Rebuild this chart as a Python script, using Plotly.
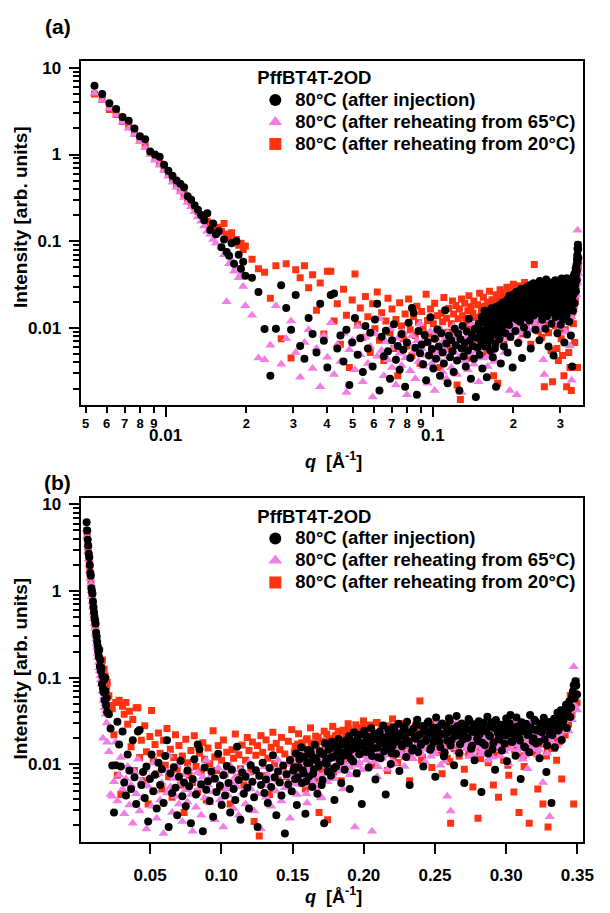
import math
import plotly.graph_objects as go

# ---------------- data ----------------
# q grid [1/Å]; the last block is a second, interleaved set of high-q points
q = [
 0.00540, 0.00577, 0.00614, 0.00651, 0.00688, 0.00725, 0.00762, 0.00799, 0.00836, 0.00873,
 0.00910, 0.00947, 0.00984, 0.01021, 0.01058, 0.01095, 0.01132, 0.01169, 0.01206, 0.01243,
 0.01280, 0.01317, 0.01354, 0.01391, 0.01428, 0.01465, 0.01502, 0.01539, 0.01576, 0.01613,
 0.01650, 0.01687, 0.01724, 0.01761, 0.01798, 0.01835, 0.01872, 0.01909, 0.01946, 0.01983,
 0.0210, 0.0222, 0.0234, 0.0246, 0.0258, 0.0270, 0.0282, 0.0294, 0.0306, 0.0318,
 0.0330, 0.0342, 0.0354, 0.0366, 0.0378, 0.0390, 0.0402, 0.0414, 0.0426, 0.0438,
 0.0450, 0.0462, 0.0474, 0.0486, 0.0498, 0.0510, 0.0522, 0.0534, 0.0546, 0.0558,
 0.0570, 0.0582, 0.0594, 0.0606, 0.0618, 0.0630, 0.0642, 0.0654, 0.0666, 0.0678,
 0.0690, 0.0702, 0.0714, 0.0726, 0.0738, 0.0750, 0.0762, 0.0774, 0.0786, 0.0798,
 0.0810, 0.0822, 0.0834, 0.0846, 0.0858, 0.0870, 0.0882, 0.0894, 0.0906, 0.0918,
 0.0930, 0.0942, 0.0954, 0.0966, 0.0978, 0.0990, 0.1002, 0.1014, 0.1026, 0.1038,
 0.1050, 0.1062, 0.1074, 0.1086, 0.1098, 0.1110, 0.1122, 0.1134, 0.1146, 0.1158,
 0.1170, 0.1182, 0.1194, 0.1206, 0.1218, 0.1230, 0.1242, 0.1254, 0.1266, 0.1278,
 0.1290, 0.1302, 0.1314, 0.1326, 0.1338, 0.1350, 0.1362, 0.1374, 0.1386, 0.1398,
 0.1410, 0.1422, 0.1434, 0.1446, 0.1458, 0.1470, 0.1482, 0.1494, 0.1506, 0.1518,
 0.1530, 0.1542, 0.1554, 0.1566, 0.1578, 0.1590, 0.1602, 0.1614, 0.1626, 0.1638,
 0.1650, 0.1662, 0.1674, 0.1686, 0.1698, 0.1710, 0.1722, 0.1734, 0.1746, 0.1758,
 0.1770, 0.1782, 0.1794, 0.1806, 0.1818, 0.1830, 0.1842, 0.1854, 0.1866, 0.1878,
 0.1890, 0.1902, 0.1914, 0.1926, 0.1938, 0.1950, 0.1962, 0.1974, 0.1986, 0.1998,
 0.2010, 0.2022, 0.2034, 0.2046, 0.2058, 0.2070, 0.2082, 0.2094, 0.2106, 0.2118,
 0.2130, 0.2142, 0.2154, 0.2166, 0.2178, 0.2190, 0.2202, 0.2214, 0.2226, 0.2238,
 0.2250, 0.2262, 0.2274, 0.2286, 0.2298, 0.2310, 0.2322, 0.2334, 0.2346, 0.2358,
 0.2370, 0.2382, 0.2394, 0.2406, 0.2418, 0.2430, 0.2442, 0.2454, 0.2466, 0.2478,
 0.2490, 0.2502, 0.2514, 0.2526, 0.2538, 0.2550, 0.2562, 0.2574, 0.2586, 0.2598,
 0.2610, 0.2622, 0.2634, 0.2646, 0.2658, 0.2670, 0.2682, 0.2694, 0.2706, 0.2718,
 0.2730, 0.2742, 0.2754, 0.2766, 0.2778, 0.2790, 0.2802, 0.2814, 0.2826, 0.2838,
 0.2850, 0.2862, 0.2874, 0.2886, 0.2898, 0.2910, 0.2922, 0.2934, 0.2946, 0.2958,
 0.2970, 0.2982, 0.2994, 0.3006, 0.3018, 0.3030, 0.3042, 0.3054, 0.3066, 0.3078,
 0.3090, 0.3102, 0.3114, 0.3126, 0.3138, 0.3150, 0.3162, 0.3174, 0.3186, 0.3198,
 0.3210, 0.3222, 0.3234, 0.3246, 0.3258, 0.3270, 0.3282, 0.3294, 0.3306, 0.3318,
 0.3330, 0.3342, 0.3354, 0.3366, 0.3378, 0.3390, 0.3402, 0.3414, 0.3426, 0.3438,
 0.3450, 0.3462, 0.3474, 0.3486, 0.3498,
 # interleaved high-q points
 0.1512, 0.1524, 0.1536, 0.1548, 0.1560, 0.1572, 0.1584, 0.1596, 0.1608, 0.1620,
 0.1632, 0.1644, 0.1656, 0.1668, 0.1680, 0.1692, 0.1704, 0.1716, 0.1728, 0.1740,
 0.1752, 0.1764, 0.1776, 0.1788, 0.1800, 0.1812, 0.1824, 0.1836, 0.1848, 0.1860,
 0.1872, 0.1884, 0.1896, 0.1908, 0.1920, 0.1932, 0.1944, 0.1956, 0.1968, 0.1980,
 0.1992, 0.2004, 0.2016, 0.2028, 0.2040, 0.2052, 0.2064, 0.2076, 0.2088, 0.2100,
 0.2112, 0.2124, 0.2136, 0.2148, 0.2160, 0.2172, 0.2184, 0.2196, 0.2208, 0.2220,
 0.2232, 0.2244, 0.2256, 0.2268, 0.2280, 0.2292, 0.2304, 0.2316, 0.2328, 0.2340,
 0.2352, 0.2364, 0.2376, 0.2388, 0.2400, 0.2412, 0.2424, 0.2436, 0.2448, 0.2460,
 0.2472, 0.2484, 0.2496, 0.2508, 0.2520, 0.2532, 0.2544, 0.2556, 0.2568, 0.2580,
 0.2592, 0.2604, 0.2616, 0.2628, 0.2640, 0.2652, 0.2664, 0.2676, 0.2688, 0.2700,
 0.2712, 0.2724, 0.2736, 0.2748, 0.2760, 0.2772, 0.2784, 0.2796, 0.2808, 0.2820,
 0.2832, 0.2844, 0.2856, 0.2868, 0.2880, 0.2892, 0.2904, 0.2916, 0.2928, 0.2940,
 0.2952, 0.2964, 0.2976, 0.2988, 0.3000, 0.3012, 0.3024, 0.3036, 0.3048, 0.3060,
 0.3072, 0.3084, 0.3096, 0.3108, 0.3120, 0.3132, 0.3144, 0.3156, 0.3168, 0.3180,
 0.3192, 0.3204, 0.3216, 0.3228, 0.3240, 0.3252, 0.3264, 0.3276, 0.3288, 0.3300,
 0.3312, 0.3324, 0.3336, 0.3348, 0.3360, 0.3372, 0.3384, 0.3396, 0.3408, 0.3420,
 0.3432, 0.3444, 0.3456, 0.3468, 0.3480, 0.3492,
]

I_injection = [
 6.2, 5.0, 3.9, 3.35, 2.7, 2.45, 2.0, 1.62, 1.5, 1.08,
 1.0, 0.94, 0.76, 0.65, 0.57, 0.50, 0.46, 0.42, 0.33, 0.30,
 0.26, 0.23, 0.20, 0.175, 0.21, 0.135, 0.16, 0.12, 0.13, 0.085,
 0.105, 0.075, 0.068, 0.095, 0.055, 0.1, 0.07, 0.048, 0.058, 0.04,
 0.038, 0.026, 0.0097, 0.0028, 0.0098, 0.031, 0.017, 0.0095, 0.024, 0.0062,
 0.0044, 0.013, 0.0085, 0.0052, 0.019, 0.0071, 0.0035, 0.024, 0.025, 0.0058,
 0.0082, 0.0041, 0.0095, 0.0022, 0.0068, 0.013, 0.0049, 0.0076, 0.0031, 0.0105,
 0.0058, 0.0088, 0.0036, 0.0125, 0.019, 0.0019, 0.0079, 0.0047, 0.0093, 0.0054,
 0.0026, 0.0072, 0.011, 0.0043, 0.0062, 0.0033, 0.0085, 0.0056, 0.0021, 0.0068,
 0.0115, 0.0045, 0.017, 0.015, 0.0059, 0.0017, 0.0092, 0.0051, 0.0064, 0.0038,
 0.0083, 0.0025, 0.0069, 0.0048, 0.0133, 0.0057, 0.0034, 0.0075, 0.0044, 0.0096,
 0.0061, 0.0028, 0.0087, 0.0052, 0.0039, 0.016, 0.0066, 0.0023, 0.0081, 0.0046,
 0.0072, 0.0054, 0.0031, 0.0098, 0.0063, 0.0042, 0.0086, 0.0019, 0.0074, 0.0058,
 0.0105, 0.0047, 0.0067, 0.0036, 0.0091, 0.0055, 0.0128, 0.0071, 0.0026, 0.0083,
 0.0062, 0.0044, 0.0097, 0.0016, 0.0077, 0.0059, 0.0112, 0.0049, 0.0085, 0.0068,
 0.0034, 0.0093, 0.0125, 0.0061, 0.0079, 0.0027, 0.0104, 0.0072, 0.0141, 0.0055,
 0.0088, 0.0118, 0.0046, 0.0099, 0.0135, 0.0066, 0.0021, 0.0109, 0.0083, 0.0152,
 0.0074, 0.0122, 0.0039, 0.0095, 0.0158, 0.0113, 0.0061, 0.0138, 0.0087, 0.0172,
 0.0128, 0.0052, 0.0149, 0.0108, 0.0185, 0.0079, 0.0163, 0.0134, 0.0035, 0.0177,
 0.0145, 0.0198, 0.0092, 0.0168, 0.0125, 0.0214, 0.0067, 0.0156, 0.0189, 0.0118,
 0.0205, 0.0142, 0.0045, 0.0178, 0.0226, 0.0101, 0.0162, 0.0249, 0.0133, 0.0195,
 0.0084, 0.0218, 0.0171, 0.0268, 0.0122, 0.0187, 0.0058, 0.0236, 0.0154, 0.0207,
 0.0285, 0.0139, 0.0222, 0.0176, 0.0095, 0.0253, 0.0198, 0.0312, 0.0148, 0.0234,
 0.0181, 0.0072, 0.0265, 0.0209, 0.0158, 0.0296, 0.0124, 0.0228, 0.0189, 0.0342,
 0.0165, 0.0247, 0.0098, 0.0214, 0.0278, 0.0136, 0.0231, 0.0193, 0.0061, 0.0258,
 0.0205, 0.0318, 0.0152, 0.0239, 0.0112, 0.0272, 0.0186, 0.0223, 0.0048, 0.0291,
 0.0168, 0.0245, 0.0134, 0.0212, 0.0305, 0.0177, 0.0087, 0.0262, 0.0198, 0.0236,
 0.0145, 0.0284, 0.0216, 0.0109, 0.0253, 0.0371, 0.0182, 0.0229, 0.0126, 0.0274,
 0.0203, 0.0068, 0.0242, 0.0161, 0.0295, 0.0219, 0.0138, 0.0267, 0.0186, 0.0327,
 0.0174, 0.0255, 0.0118, 0.0238, 0.0301, 0.0195, 0.0082, 0.0272, 0.0224, 0.0036,
 0.0286, 0.0158, 0.0342, 0.0247, 0.0385, 0.0192, 0.0318, 0.0431, 0.0264, 0.0475,
 0.0352, 0.0618, 0.082, 0.091, 0.064,
 0.0092, 0.0134, 0.0071, 0.0115, 0.0158, 0.0086, 0.0122, 0.0064, 0.0147, 0.0105,
 0.0128, 0.0078, 0.0169, 0.0112, 0.0095, 0.0142, 0.0058, 0.0131, 0.0176, 0.0101,
 0.0148, 0.0119, 0.0183, 0.0089, 0.0162, 0.0137, 0.0196, 0.0108, 0.0171, 0.0126,
 0.0188, 0.0143, 0.0212, 0.0117, 0.0174, 0.0235, 0.0155, 0.0198, 0.0131, 0.0221,
 0.0166, 0.0245, 0.0139, 0.0207, 0.0184, 0.0262, 0.0152, 0.0228, 0.0195, 0.0121,
 0.0238, 0.0174, 0.0281, 0.0205, 0.0158, 0.0252, 0.0191, 0.0135, 0.0269, 0.0216,
 0.0183, 0.0295, 0.0227, 0.0162, 0.0248, 0.0204, 0.0311, 0.0176, 0.0236, 0.0145,
 0.0262, 0.0198, 0.0328, 0.0219, 0.0168, 0.0277, 0.0241, 0.0186, 0.0302, 0.0229,
 0.0155, 0.0266, 0.0211, 0.0347, 0.0249, 0.0182, 0.0288, 0.0224, 0.0137, 0.0273,
 0.0235, 0.0319, 0.0192, 0.0258, 0.0214, 0.0362, 0.0246, 0.0171, 0.0297, 0.0226,
 0.0281, 0.0203, 0.0334, 0.0252, 0.0164, 0.0291, 0.0237, 0.0198, 0.0315, 0.0259,
 0.0178, 0.0302, 0.0244, 0.0355, 0.0217, 0.0276, 0.0149, 0.0263, 0.0326, 0.0232,
 0.0194, 0.0287, 0.0251, 0.0173, 0.0338, 0.0226, 0.0298, 0.0185, 0.0264, 0.0211,
 0.0349, 0.0242, 0.0189, 0.0306, 0.0268, 0.0157, 0.0283, 0.0229, 0.0373, 0.0255,
 0.0201, 0.0318, 0.0246, 0.0182, 0.0294, 0.0237, 0.0345, 0.0271, 0.0165, 0.0309,
 0.0253, 0.0218, 0.0336, 0.0284, 0.0395, 0.0261, 0.0422, 0.0305, 0.0368, 0.0488,
 0.0412, 0.0535, 0.0455, 0.0692, 0.0578, 0.0815,
]

I_reheat65 = [
 5.1, 4.2, 3.4, 2.85, 2.35, 2.0, 1.7, 1.4, 1.2, 1.0,
 0.86, 0.75, 0.65, 0.56, 0.48, 0.42, 0.37, 0.32, 0.28, 0.25,
 0.22, 0.19, 0.17, 0.15, 0.13, 0.12, 0.105, 0.095, 0.12, 0.085,
 0.07, 0.02, 0.055, 0.06, 0.045, 0.05, 0.038, 0.042, 0.03, 0.018,
 0.014, 0.0045, 0.0043, 0.0063, 0.018, 0.0038, 0.0075, 0.012, 0.0052, 0.0027,
 0.0068, 0.0095, 0.0034, 0.0058, 0.0021, 0.0082, 0.0046, 0.0115, 0.0029, 0.0064,
 0.0041, 0.0087, 0.0018, 0.0056, 0.0072, 0.0033, 0.0104, 0.0049, 0.0024, 0.0078,
 0.0039, 0.0061, 0.0016, 0.0085, 0.0047, 0.0128, 0.0055, 0.0028, 0.0069, 0.0043,
 0.0098, 0.0035, 0.0059, 0.0022, 0.0076, 0.0051, 0.0037, 0.0089, 0.0045, 0.0017,
 0.0066, 0.0032, 0.0081, 0.0054, 0.0026, 0.0071, 0.0041, 0.0112, 0.0058, 0.0036,
 0.0074, 0.0048, 0.0023, 0.0065, 0.0091, 0.0039, 0.0057, 0.0019, 0.0083, 0.0052,
 0.0044, 0.0097, 0.0061, 0.0031, 0.0072, 0.0055, 0.0026, 0.0087, 0.0047, 0.0068,
 0.0035, 0.0078, 0.0105, 0.0052, 0.0064, 0.0029, 0.0083, 0.0046, 0.0071, 0.0018,
 0.0059, 0.0094, 0.0042, 0.0076, 0.0057, 0.0033, 0.0089, 0.0067, 0.0049, 0.0112,
 0.0063, 0.0038, 0.0081, 0.0054, 0.0099, 0.0072, 0.0024, 0.0086, 0.0061, 0.0118,
 0.0045, 0.0093, 0.0077, 0.0132, 0.0058, 0.0104, 0.0036, 0.0089, 0.0071, 0.0125,
 0.0082, 0.0054, 0.0115, 0.0096, 0.0041, 0.0138, 0.0078, 0.0107, 0.0063, 0.0121,
 0.0092, 0.0146, 0.0069, 0.0113, 0.0084, 0.0158, 0.0101, 0.0052, 0.0129, 0.0095,
 0.0141, 0.0076, 0.0118, 0.0167, 0.0019, 0.0132, 0.0098, 0.0152, 0.0087, 0.0148,
 0.0125, 0.0162, 0.0093, 0.0143, 0.0017, 0.0108, 0.0155, 0.0072, 0.0137, 0.0171,
 0.0118, 0.0196, 0.0149, 0.0088, 0.0175, 0.0132, 0.0211, 0.0104, 0.0163, 0.0187,
 0.0126, 0.0205, 0.0154, 0.0095, 0.0228, 0.0172, 0.0138, 0.0194, 0.0116, 0.0246,
 0.0161, 0.0203, 0.0129, 0.0185, 0.0238, 0.0107, 0.0174, 0.0215, 0.0148, 0.0192,
 0.0262, 0.0134, 0.0179, 0.0221, 0.0098, 0.0196, 0.0157, 0.0243, 0.0043, 0.0186,
 0.0029, 0.0212, 0.0167, 0.0274, 0.0139, 0.0198, 0.0135, 0.0181, 0.0226, 0.0152,
 0.0235, 0.0124, 0.0189, 0.0258, 0.0145, 0.0207, 0.0171, 0.0292, 0.0132, 0.0218,
 0.0163, 0.0249, 0.0112, 0.0195, 0.0231, 0.0148, 0.0268, 0.0176, 0.0214, 0.0125,
 0.0284, 0.0187, 0.0156, 0.0239, 0.0102, 0.0205, 0.0328, 0.0169, 0.0224, 0.0141,
 0.0252, 0.0193, 0.0115, 0.0236, 0.0178, 0.0089, 0.0265, 0.0208, 0.0152, 0.0245,
 0.0183, 0.0128, 0.0296, 0.0217, 0.0062, 0.0241, 0.0174, 0.0201, 0.0025, 0.0263,
 0.0219, 0.0288, 0.0164, 0.0312, 0.0236, 0.0195, 0.0355, 0.0268, 0.0412, 0.0243,
 0.0465, 0.0328, 0.134, 0.058, 0.0425,
 0.0078, 0.0112, 0.0059, 0.0094, 0.0131, 0.0068, 0.0104, 0.0046, 0.0122, 0.0085,
 0.0108, 0.0063, 0.0139, 0.0091, 0.0074, 0.0118, 0.0042, 0.0106, 0.0147, 0.0082,
 0.0125, 0.0097, 0.0152, 0.0069, 0.0135, 0.0113, 0.0163, 0.0088, 0.0141, 0.0102,
 0.0157, 0.0116, 0.0178, 0.0092, 0.0143, 0.0195, 0.0124, 0.0166, 0.0105, 0.0184,
 0.0136, 0.0204, 0.0112, 0.0172, 0.0151, 0.0218, 0.0121, 0.0189, 0.0162, 0.0094,
 0.0198, 0.0143, 0.0233, 0.0169, 0.0128, 0.0209, 0.0157, 0.0108, 0.0224, 0.0178,
 0.0149, 0.0246, 0.0187, 0.0131, 0.0205, 0.0167, 0.0259, 0.0142, 0.0194, 0.0116,
 0.0217, 0.0161, 0.0272, 0.0179, 0.0136, 0.0229, 0.0198, 0.0151, 0.0251, 0.0188,
 0.0124, 0.0221, 0.0173, 0.0288, 0.0205, 0.0148, 0.0239, 0.0184, 0.0109, 0.0226,
 0.0193, 0.0265, 0.0156, 0.0213, 0.0175, 0.0301, 0.0202, 0.0138, 0.0247, 0.0185,
 0.0232, 0.0166, 0.0278, 0.0207, 0.0132, 0.0241, 0.0194, 0.0161, 0.0262, 0.0213,
 0.0145, 0.0251, 0.0201, 0.0295, 0.0178, 0.0228, 0.0121, 0.0217, 0.0271, 0.0191,
 0.0158, 0.0238, 0.0207, 0.0141, 0.0281, 0.0186, 0.0247, 0.0152, 0.0218, 0.0173,
 0.0289, 0.0199, 0.0154, 0.0254, 0.0221, 0.0128, 0.0234, 0.0188, 0.0309, 0.0211,
 0.0165, 0.0263, 0.0203, 0.0149, 0.0243, 0.0195, 0.0286, 0.0224, 0.0135, 0.0256,
 0.0209, 0.0179, 0.0278, 0.0234, 0.0327, 0.0216, 0.0349, 0.0252, 0.0305, 0.0404,
 0.0341, 0.0443, 0.0376, 0.0572, 0.0478, 0.0675,
]

I_reheat20 = [
 5.0, 4.3, 3.3, 2.9, 2.4, 2.1, 1.75, 1.5, 1.25, 1.05,
 0.9, 0.8, 0.68, 0.6, 0.52, 0.46, 0.4, 0.35, 0.31, 0.28,
 0.25, 0.22, 0.2, 0.19, 0.17, 0.16, 0.15, 0.14, 0.145, 0.13,
 0.16, 0.12, 0.11, 0.125, 0.1, 0.105, 0.09, 0.095, 0.08, 0.088,
 0.062, 0.048, 0.044, 0.022, 0.052, 0.0075, 0.055, 0.0045, 0.047, 0.038,
 0.052, 0.029, 0.041, 0.016, 0.033, 0.0085, 0.045, 0.045, 0.012, 0.019,
 0.0065, 0.028, 0.014, 0.0035, 0.021, 0.042, 0.011, 0.017, 0.0078, 0.023,
 0.0135, 0.0052, 0.019, 0.0098, 0.026, 0.0072, 0.015, 0.0042, 0.012, 0.022,
 0.0088, 0.0165, 0.0058, 0.0125, 0.0028, 0.0195, 0.0105, 0.0075, 0.0145, 0.0062,
 0.0215, 0.0095, 0.0048, 0.0135, 0.0082, 0.0178, 0.0115, 0.0039, 0.0155, 0.0102,
 0.0068, 0.0245, 0.0122, 0.0085, 0.0165, 0.0054, 0.0112, 0.0192, 0.0077, 0.0138,
 0.0096, 0.0035, 0.0148, 0.0118, 0.0225, 0.0071, 0.0129, 0.0089, 0.0168, 0.0058,
 0.0112, 0.0205, 0.0145, 0.0083, 0.0182, 0.0022, 0.0128, 0.0165, 0.0015, 0.0215,
 0.0138, 0.0074, 0.0192, 0.0118, 0.0045, 0.0158, 0.0235, 0.0102, 0.0175, 0.0066,
 0.0148, 0.0205, 0.0088, 0.0132, 0.0072, 0.0185, 0.0115, 0.0252, 0.0096, 0.0162,
 0.0125, 0.0226, 0.0074, 0.0178, 0.0139, 0.0052, 0.0198, 0.0108, 0.0264, 0.0155,
 0.0085, 0.0212, 0.0142, 0.0028, 0.0185, 0.0118, 0.0242, 0.0165, 0.0023, 0.0198,
 0.0128, 0.0275, 0.0158, 0.0092, 0.0225, 0.0182, 0.0065, 0.0248, 0.0145, 0.0205,
 0.0295, 0.0172, 0.0112, 0.0232, 0.0188, 0.0078, 0.0265, 0.0215, 0.0142, 0.0318,
 0.0192, 0.0248, 0.0135, 0.0285, 0.0098, 0.0222, 0.0175, 0.0305, 0.0158, 0.0235,
 0.0128, 0.0262, 0.0195, 0.0085, 0.0242, 0.0172, 0.0335, 0.0148, 0.0218, 0.0105,
 0.0275, 0.0188, 0.0232, 0.0125, 0.0296, 0.0165, 0.0065, 0.0252, 0.0208, 0.0145,
 0.0318, 0.0195, 0.054, 0.0112, 0.0212, 0.0182, 0.0228, 0.0155, 0.0286, 0.0092,
 0.0235, 0.0172, 0.0268, 0.0138, 0.0205, 0.0078, 0.0245, 0.0188, 0.0118, 0.0262,
 0.0021, 0.0225, 0.0152, 0.0285, 0.0198, 0.0125, 0.0242, 0.0175, 0.0088, 0.0215,
 0.0265, 0.0145, 0.0208, 0.0055, 0.0238, 0.0182, 0.0024, 0.0135, 0.0198, 0.0255,
 0.0168, 0.0228, 0.0105, 0.0192, 0.0275, 0.0058, 0.0215, 0.0148, 0.0042, 0.0238,
 0.0185, 0.0112, 0.0252, 0.0162, 0.0075, 0.0225, 0.0305, 0.0048, 0.0198, 0.0135,
 0.0028, 0.0218, 0.0165, 0.0095, 0.0245, 0.0182, 0.0021, 0.0205, 0.0138, 0.0268,
 0.0155, 0.0052, 0.0232, 0.0178, 0.0035, 0.0212, 0.0125, 0.0019, 0.0245, 0.0168,
 0.0285, 0.0195, 0.0112, 0.0332, 0.0245, 0.0068, 0.0385, 0.0218, 0.0455, 0.0292,
 0.0625, 0.0375, 0.0035, 0.0845, 0.0515,
 0.0138, 0.0085, 0.0172, 0.0104, 0.0061, 0.0155, 0.0121, 0.0192, 0.0094, 0.0143,
 0.0176, 0.0112, 0.0068, 0.0161, 0.0205, 0.0128, 0.0087, 0.0183, 0.0149, 0.0224,
 0.0118, 0.0196, 0.0157, 0.0082, 0.0214, 0.0168, 0.0241, 0.0133, 0.0187, 0.0102,
 0.0229, 0.0162, 0.0255, 0.0178, 0.0126, 0.0212, 0.0286, 0.0151, 0.0234, 0.0194,
 0.0141, 0.0267, 0.0205, 0.0165, 0.0248, 0.0097, 0.0222, 0.0182, 0.0303, 0.0215,
 0.0169, 0.0258, 0.0136, 0.0231, 0.0197, 0.0279, 0.0152, 0.0243, 0.0114, 0.0211,
 0.0264, 0.0187, 0.0226, 0.0148, 0.0297, 0.0208, 0.0172, 0.0251, 0.0131, 0.0236,
 0.0199, 0.0283, 0.0164, 0.0247, 0.0215, 0.0121, 0.0268, 0.0186, 0.0232, 0.0158,
 0.0291, 0.0203, 0.0176, 0.0256, 0.0139, 0.0238, 0.0194, 0.0272, 0.0221, 0.0167,
 0.0249, 0.0108, 0.0226, 0.0183, 0.0287, 0.0211, 0.0154, 0.0262, 0.0197, 0.0239,
 0.0174, 0.0268, 0.0129, 0.0231, 0.0205, 0.0279, 0.0161, 0.0244, 0.0188, 0.0117,
 0.0253, 0.0196, 0.0234, 0.0152, 0.0285, 0.0209, 0.0178, 0.0261, 0.0131, 0.0227,
 0.0192, 0.0274, 0.0163, 0.0238, 0.0205, 0.0098, 0.0256, 0.0184, 0.0229, 0.0146,
 0.0269, 0.0201, 0.0172, 0.0245, 0.0126, 0.0232, 0.0291, 0.0178, 0.0214, 0.0159,
 0.0248, 0.0186, 0.0135, 0.0263, 0.0207, 0.0172, 0.0281, 0.0224, 0.0148, 0.0239,
 0.0196, 0.0268, 0.0153, 0.0301, 0.0235, 0.0182, 0.0346, 0.0258, 0.0398, 0.0318,
 0.0445, 0.0362, 0.0598, 0.0471, 0.0725, 0.0912,
]

series_names = ["80°C (after injection)",
                "80°C (after reheating from 65°C)",
                "80°C (after reheating from 20°C)"]
legend_title = "PffBT4T-2OD"

# tick labels
xa_minor_vals = [0.005, 0.006, 0.007, 0.008, 0.009,
                 0.02, 0.03, 0.04, 0.05, 0.06, 0.07, 0.08, 0.09, 0.2, 0.3]
xa_minor_text = ["5", "6", "7", "8", "9", "2", "3", "4", "5", "6", "7", "8", "9", "2", "3"]
xa_major_vals = [0.01, 0.1]
xa_major_text = ["0.01", "0.1"]
y_major_vals = [0.01, 0.1, 1, 10]
y_major_text = ["0.01", "0.1", "1", "10"]
xb_vals = [0.05, 0.10, 0.15, 0.20, 0.25, 0.30, 0.35]
xb_text = ["0.05", "0.10", "0.15", "0.20", "0.25", "0.30", "0.35"]

# ---------------- figure ----------------
W, H = 610, 913
FONT = "Liberation Sans, Arial, sans-serif"
BLACK = "#000000"
PINK = "#F27DE4"
RED = "#FF3311"


def fx(p):
    return p / W


def fy(p):
    return 1 - p / H


styles = {
    series_names[0]: dict(symbol="circle", color=BLACK, size=8),
    series_names[1]: dict(symbol="triangle-up", color=PINK, size=9),
    series_names[2]: dict(symbol="square", color=RED, size=7),
}
data_map = {series_names[0]: I_injection,
            series_names[1]: I_reheat65,
            series_names[2]: I_reheat20}

fig = go.Figure()
draw_order = [series_names[2], series_names[1], series_names[0]]
for xa, ya, lg in [("x", "y", "legend"), ("x2", "y2", "legend2")]:
    for name in draw_order:
        st = styles[name]
        fig.add_trace(go.Scatter(
            x=q, y=data_map[name], mode="markers",
            name="<span style='font-size:18.5px'><b>%s</b></span>" % name,
            xaxis=xa, yaxis=ya, legend=lg,
            marker=dict(symbol=st["symbol"], color=st["color"], size=st["size"],
                        line=dict(width=0)),
            hoverinfo="skip"))

y_minor = [m * 10.0 ** e for e in (-3, -2, -1, 0) for m in range(2, 10)]

axis_common = dict(showline=True, linewidth=2, linecolor=BLACK, mirror=True,
                   showgrid=False, zeroline=False, ticks="outside",
                   tickcolor=BLACK, tickwidth=1.5)
tickfont = dict(family=FONT, size=17, color=BLACK, weight="bold")

fig.update_layout(
    width=W, height=H, margin=dict(l=0, r=0, t=0, b=0),
    paper_bgcolor="white", plot_bgcolor="white",
    font=dict(family=FONT, color=BLACK, weight="bold"),
    xaxis=dict(axis_common, domain=[fx(82), fx(594)], anchor="y", type="log",
               range=[-2.3199, -0.4375], tickmode="array",
               tickvals=xa_minor_vals, ticktext=xa_minor_text, ticklen=6,
               tickfont=dict(family=FONT, size=13, color=BLACK, weight="bold"),
               minor=dict(tickmode="array", tickvals=xa_major_vals, ticks="outside",
                          ticklen=10, tickwidth=1.5, tickcolor=BLACK)),
    yaxis=dict(axis_common, domain=[fy(403), fy(58)], anchor="x", type="log",
               range=[-2.885, 1.0805], tickmode="array",
               tickvals=y_major_vals, ticktext=y_major_text, ticklen=10,
               tickfont=tickfont, ticklabelstandoff=4,
               minor=dict(tickmode="array", tickvals=y_minor, ticks="outside",
                          ticklen=6, tickwidth=1.5, tickcolor=BLACK)),
    xaxis2=dict(axis_common, domain=[fx(82), fx(594)], anchor="y2",
                range=[0.0011, 0.35414], tickmode="array",
                tickvals=xb_vals, ticktext=xb_text, ticklen=10, tickfont=tickfont,
                ticklabelstandoff=6),
    yaxis2=dict(axis_common, domain=[fy(842), fy(497)], anchor="x2", type="log",
                range=[-2.897, 1.069], tickmode="array",
                tickvals=y_major_vals, ticktext=y_major_text, ticklen=10,
                tickfont=tickfont, ticklabelstandoff=4,
                minor=dict(tickmode="array", tickvals=y_minor, ticks="outside",
                           ticklen=6, tickwidth=1.5, tickcolor=BLACK)),
)

leg_common = dict(xanchor="left", yanchor="top", bgcolor="rgba(0,0,0,0)",
                  borderwidth=0, itemsizing="constant", traceorder="reversed",
                  font=dict(family=FONT, size=14.6, color=BLACK, weight="bold"),
                  title=dict(text="<span style='font-size:18.5px'><b>%s</b></span>" % legend_title,
                             font=dict(family=FONT, size=14, color=BLACK, weight="bold")),
                  tracegroupgap=0)
fig.update_layout(
    legend=dict(leg_common, x=fx(260), y=fy(63)),
    legend2=dict(leg_common, x=fx(260), y=fy(503)),
)

ann = []
# panel letters
ann.append(dict(text="<b>(a)</b>", x=fx(59), y=fy(24), xref="paper", yref="paper",
                xanchor="center", yanchor="middle", showarrow=False,
                font=dict(family=FONT, size=21, color=BLACK)))
ann.append(dict(text="<b>(b)</b>", x=fx(59), y=fy(481), xref="paper", yref="paper",
                xanchor="center", yanchor="middle", showarrow=False,
                font=dict(family=FONT, size=21, color=BLACK)))
# y titles
for yc in (fy(215), fy(668)):
    ann.append(dict(text="<b>Intensity [arb. units]</b>", x=fx(21), y=yc,
                    xref="paper", yref="paper", textangle=-90, showarrow=False,
                    xanchor="center", yanchor="middle",
                    font=dict(family=FONT, size=19, color=BLACK)))
# x titles
for yc in (fy(459), fy(895)):
    ann.append(dict(text="<b><i>q</i>  [Å<sup>-1</sup>]</b>", x=fx(340), y=yc,
                    xref="paper", yref="paper", showarrow=False,
                    xanchor="center", yanchor="middle",
                    font=dict(family=FONT, size=18, color=BLACK)))
# decade labels of the log q axis (second row)
for v, t in zip(xa_major_vals, xa_major_text):
    ann.append(dict(text="<b>%s</b>" % t, x=math.log10(v), y=fy(434), xref="x",
                    yref="paper", showarrow=False, xanchor="center", yanchor="middle",
                    font=dict(family=FONT, size=17, color=BLACK)))
fig.update_layout(annotations=ann)

fig.write_html("out.html")
